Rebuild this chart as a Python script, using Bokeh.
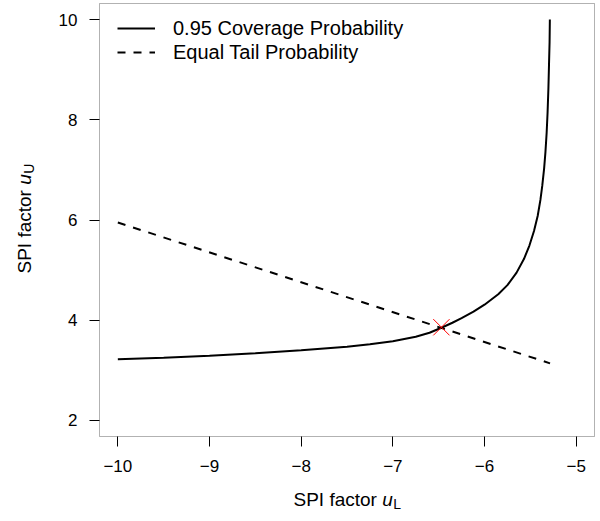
import numpy as np
from bokeh.plotting import figure
from bokeh.models import (Range1d, FixedTicker, CustomJSTickFormatter, Legend, LegendItem,
                          Label, BoxAnnotation)
from bokeh.embed import file_html
from bokeh.resources import INLINE

# 0.95 coverage probability curve
cov_uL = [-10.0, -9.5, -9.0, -8.5, -8.0, -7.5, -7.25, -7.0, -6.75, -6.6, -6.47, -6.35, -6.25,
          -6.12, -6.0, -5.85, -5.75, -5.65, -5.57, -5.51, -5.46, -5.42, -5.39, -5.37, -5.35,
          -5.335, -5.322, -5.312, -5.303, -5.296, -5.29, -5.287]
cov_uU = [3.22, 3.25, 3.29, 3.34, 3.40, 3.47, 3.52, 3.58, 3.67, 3.75, 3.85, 3.95, 4.04,
          4.17, 4.31, 4.52, 4.70, 4.95, 5.22, 5.49, 5.78, 6.08, 6.40, 6.68, 7.02,
          7.36, 7.74, 8.14, 8.62, 9.12, 9.55, 10.0]

# equal tail probability line
eq_uL = [-10.0, -5.285]
eq_uU = [5.95, 3.14]

# intersection
cross_uL = [-6.47]
cross_uU = [3.86]

x_ticks = [-10, -9, -8, -7, -6, -5]
y_ticks = [2, 4, 6, 8, 10]

FONT = "Liberation Sans"
W, H = 600, 521

# plot box (data limits) and where it sits in the canvas (pixels)
x0, x1 = -10.2, -4.8
y0, y1 = 1.68, 10.32
bl, br, bt, bb = 99, 594, 3, 436
kx = (x1 - x0) / (br - bl)
ky = (y1 - y0) / (bb - bt)

p = figure(width=W, height=H, output_backend="svg", toolbar_location=None, title=None,
           x_range=Range1d(x0 - bl * kx, x1 + (W - br) * kx),
           y_range=Range1d(y0 - (H - bb) * ky, y1 + bt * ky),
           min_border_left=0, min_border_right=0, min_border_top=0, min_border_bottom=0)
p.background_fill_color = "white"
p.border_fill_color = "white"
p.outline_line_color = None
p.grid.visible = False

p.add_layout(BoxAnnotation(left=x0, right=x1, bottom=y0, top=y1, fill_alpha=0,
                           line_color="black", line_width=1))

fmt = CustomJSTickFormatter(code="return tick < 0 ? '\u2212' + Math.abs(tick) : '' + tick;")
for ax, ticks in ((p.xaxis, x_ticks), (p.yaxis, y_ticks)):
    ax.ticker = FixedTicker(ticks=ticks)
    ax.formatter = fmt
    ax.axis_line_color = None
    ax.major_tick_in = 0
    ax.major_tick_out = 10
    ax.major_tick_line_color = "black"
    ax.minor_tick_line_color = None
    ax.major_label_text_font = FONT
    ax.major_label_text_font_size = "17px"
    ax.major_label_text_color = "black"
p.xaxis.fixed_location = y0
p.yaxis.fixed_location = x0
p.xaxis.major_label_standoff = 13
p.yaxis.major_label_standoff = 12

l1 = p.line(cov_uL, cov_uU, line_color="black", line_width=2)
l2 = p.line(eq_uL, eq_uU, line_color="black", line_width=2, line_dash="8 8")
p.scatter(cross_uL, cross_uU, marker="x", size=23, line_color="red", line_width=1)

leg = Legend(items=[LegendItem(label="0.95 Coverage Probability", renderers=[l1]),
                    LegendItem(label="Equal Tail Probability", renderers=[l2])],
             location=(bl + 18, H - 64), margin=0, padding=0, spacing=0,
             glyph_width=38, glyph_height=24, label_height=24, label_standoff=18,
             border_line_color=None, background_fill_alpha=0,
             label_text_font=FONT, label_text_font_size="20px", label_text_color="black")
p.add_layout(leg)

def lab(x, y, text, size="19px", style="normal", angle=0.0):
    # x, y: canvas pixels from the top-left corner
    p.add_layout(Label(x=x, y=H - y, x_units="screen", y_units="screen", text=text, angle=angle,
                       text_font=FONT, text_font_size=size, text_font_style=style,
                       text_color="black", text_align="left", text_baseline="alphabetic"))

# x axis title: "SPI factor u_L"
xs = (bl + br) / 2 - 53.5
xb = 499
lab(xs, xb, "SPI factor ")
lab(xs + 88.7, xb, "u", style="italic")
lab(xs + 99.8, xb + 4, "L", size="14px")

# y axis title: "SPI factor u_U"
yx = 24
ys = (bt + bb) / 2 + 53.5
lab(yx, ys, "SPI factor ", angle=np.pi / 2)
lab(yx, ys - 88.7, "u", style="italic", angle=np.pi / 2)
lab(yx + 4, ys - 99.8, "U", size="14px", angle=np.pi / 2)

open("out.html", "w").write(file_html(p, INLINE))
